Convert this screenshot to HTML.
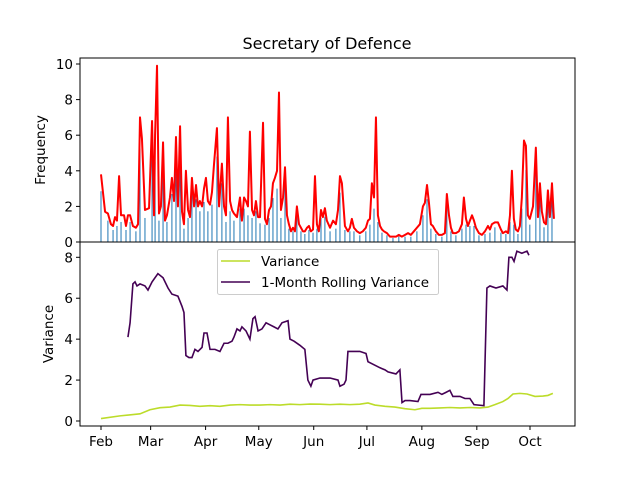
<!DOCTYPE html>
<html><head><meta charset="utf-8"><style>
body{margin:0;background:#fff;}
svg{display:block;font-family:"DejaVu Sans","Liberation Sans",sans-serif;}
</style></head><body>
<svg id="chart" width="640" height="480">
<text x="327" y="49" font-size="16" text-anchor="middle">Secretary of Defence</text>
<g id="topPanel"></g>
<g id="botPanel"></g>
<text transform="translate(45,150) rotate(-90)" font-size="13.5" text-anchor="middle">Frequency</text>
<text transform="translate(53,334) rotate(-90)" font-size="13.5" text-anchor="middle">Variance</text>
</svg>
<script>
const freqDays=[0,2.3,3.9,5.6,6.8,7.9,9,10.2,11.3,13,14.1,15.2,16.4,18,19.7,20.9,22,23.1,24.8,27.1,28.8,29.9,30.5,31.6,32.7,33.8,35,36.1,37.2,38.9,40,41.2,42.3,43.4,44.6,45.7,46.8,47.9,49.1,50.2,51.3,52.5,53.6,54.7,55.8,57,58.1,59.2,60.3,61.5,62.6,63.7,65.4,66.6,68.2,69.4,70.5,71.6,72.8,73.9,75,76.7,78.4,79.5,80.7,81.8,82.9,84,85.2,86.3,87.4,88.6,89.7,91.4,92.5,93.6,94.8,95.9,97,98.1,99.3,100.4,101.5,102.7,103.8,104.9,106,107.2,108.3,109.4,110.5,111.7,112.8,113.9,115,116.2,117.3,118.4,119.6,120.7,121.8,122.9,124.1,125.2,126.3,127.4,129.2,130.9,132.5,133.7,134.8,135.9,137.6,139.3,140.4,141.5,142.7,144.4,146,147.7,149.4,150.6,151.7,152.8,154,155.1,156.2,157.4,158.5,159.6,161.3,163,164.7,166.4,168,169.7,171.5,173.2,174.8,176.5,178.2,179.9,181.6,182.7,183.9,185,186.1,187.2,188.9,190.6,192.3,194,195.1,196.3,197.4,198.5,200.2,201.9,203.6,204.7,205.9,207,208.1,209.3,210.4,211.5,213.2,214.9,216.6,218.3,219.4,220.5,222.2,223.9,225.6,226.7,228.4,229.6,230.7,231.8,232.9,234,235.2,236.3,237.4,238.6,239.7,240.8,241.9,243.7,245.3,246.5,247.6,248.7,249.9,251,252.1,253.2,254.4,255.5];
const freqVals=[3.8,1.7,1.6,1.0,0.9,1.4,1.2,3.7,1.5,1.5,0.9,1.5,1.5,0.9,0.8,1.0,7.0,5.8,1.8,1.9,6.8,1.5,6.0,9.9,1.6,2.0,5.6,1.2,1.5,2.5,3.6,2.3,5.9,2.0,6.5,1.7,1.0,4.0,1.8,1.4,3.6,2.0,3.2,2.0,2.3,2.0,3.0,3.6,2.3,2.1,2.8,4.3,6.4,2.0,4.4,2.0,1.5,7.0,2.3,1.8,1.6,1.4,2.5,1.2,2.5,2.3,2.0,6.2,1.8,1.5,2.3,1.4,1.4,6.7,1.3,1.0,1.8,2.0,3.3,3.6,4.0,8.4,1.8,2.5,4.2,1.5,1.0,0.6,0.8,0.6,2.0,1.0,0.8,0.6,0.6,0.8,0.9,0.6,0.7,3.7,1.0,0.6,1.8,1.4,1.9,1.2,0.8,1.2,1.0,1.8,3.7,3.3,0.9,0.6,0.8,1.3,0.8,0.6,0.5,0.6,0.8,1.2,1.3,3.3,2.5,7.0,1.5,0.9,0.7,0.6,0.5,0.3,0.3,0.3,0.4,0.3,0.4,0.5,0.4,0.6,0.8,1.0,2.0,2.2,3.2,2.2,1.0,0.9,0.6,0.4,0.4,0.5,2.7,1.5,0.8,0.5,0.5,0.6,1.0,2.5,1.3,0.9,1.2,1.5,1.2,0.8,0.5,0.4,0.6,0.9,0.7,1.0,1.1,1.1,0.7,0.5,0.6,0.5,1.5,4.0,1.3,0.7,0.6,0.9,2.5,5.7,5.4,1.5,1.3,2.0,5.3,1.4,3.3,1.7,1.1,1.0,2.9,1.4,3.3,1.3];
const varDays=[0,10.7,22,27.6,33.3,38.9,44.6,50.2,55.8,61.5,67.1,72.8,78.4,84,89.7,95.3,101,106.6,112.2,117.9,123.5,129.2,134.8,140.4,146,150.6,154.5,160.2,165.8,171.5,177.1,181,185.6,191.2,196.8,202.5,208.1,213.8,218.3,222.2,226.7,229.6,232.4,236.3,240.3,244.8,249.3,252.1,254.9];
const varVals=[0.12,0.25,0.35,0.55,0.65,0.68,0.78,0.76,0.72,0.75,0.72,0.78,0.80,0.78,0.78,0.80,0.78,0.82,0.80,0.83,0.82,0.80,0.82,0.80,0.82,0.88,0.78,0.72,0.68,0.60,0.55,0.62,0.62,0.64,0.66,0.64,0.66,0.64,0.68,0.80,0.95,1.1,1.32,1.35,1.32,1.2,1.22,1.25,1.35];
const rollDays=[15.2,16.4,18,19.2,20.3,22,24.8,26.5,28.8,32.1,35,37.8,40,43.4,45.7,46.8,47.9,49.6,51.3,53,54.7,57,58.1,59.8,61.5,64.3,67.1,69.4,71.6,73.9,75,76.7,78.4,79.5,81.8,84,85.7,86.9,88.6,90.8,93.1,95.3,97.6,99.8,102.1,105.5,106.6,108.9,112.2,115,116.7,118.4,119.6,123.5,129.2,133.7,134.8,137.1,138.2,139.3,146,149.5,150.6,152.8,157.4,160.2,161.9,166.4,168.6,169.8,171.5,174.3,178.8,180.5,185.6,190.1,192.3,194.6,196.8,198.5,202.5,205.3,208.1,210.4,216,217.7,219.4,222.8,226.7,229,230.1,231.8,233,234.6,237.4,240.3,241.4];
const rollVals=[4.1,4.8,6.7,6.8,6.6,6.7,6.6,6.4,6.8,7.2,7.0,6.5,6.2,6.1,5.6,5.3,3.2,3.1,3.1,3.5,3.4,3.6,4.3,4.3,3.5,3.5,3.4,3.8,3.8,3.9,4.1,4.5,4.4,4.6,4.4,4.0,5.0,5.1,4.4,4.5,4.8,4.7,4.6,4.5,4.8,4.9,4.0,3.9,3.7,3.5,2.0,1.7,2.0,2.1,2.1,2.0,1.7,1.8,2.0,3.4,3.4,3.3,2.9,2.8,2.6,2.5,2.4,2.3,2.5,0.9,1.0,1.0,0.95,1.3,1.3,1.4,1.3,1.4,1.5,1.2,1.2,1.1,1.1,0.8,0.75,6.5,6.6,6.5,6.6,6.4,8.0,8.0,7.8,8.3,8.2,8.3,8.1];
const monthLabels=["Feb","Mar","Apr","May","Jun","Jul","Aug","Sep","Oct"];
const monthDays=[0,28,59,89,120,150,181,212,242];
const topTicks=[0,2,4,6,8,10];
const botTicks=[0,2,4,6,8];

const NS="http://www.w3.org/2000/svg";
const L=80,R=575;
const xs=d=>101+d*(530-101)/242;
const yTop=v=>242-v*17.8;
const yBot=v=>421-v*(421-257.3)/8;
function mk(p,t,a){const e=document.createElementNS(NS,t);for(const k in a)e.setAttribute(k,a[k]);p.appendChild(e);return e;}
const topG=document.getElementById('topPanel'),botG=document.getElementById('botPanel');
freqDays.forEach((d,i)=>{
  if(i%2===1)return;
  const h=freqVals[i]*0.75;
  const b=mk(topG,'rect',{x:xs(d)-0.5,y:yTop(h),width:1,height:h*17.8,fill:'#1f77b4'});
  
  
});
const pl=mk(topG,'polyline',{points:freqDays.map((d,i)=>xs(d)+','+yTop(freqVals[i])).join(' '),fill:'none',stroke:'#ff0000','stroke-width':2,'stroke-linejoin':'round'});


const g1=mk(botG,'polyline',{points:varDays.map((d,i)=>xs(d)+','+yBot(varVals[i])).join(' '),fill:'none',stroke:'#bcdc2a','stroke-width':1.6});


const g2=mk(botG,'polyline',{points:rollDays.map((d,i)=>xs(d)+','+yBot(rollVals[i])).join(' '),fill:'none',stroke:'#440154','stroke-width':1.6});


const f1=mk(topG,'rect',{x:L,y:58,width:R-L,height:184,fill:'none',stroke:'#000','stroke-width':1});


const f2=mk(botG,'rect',{x:L,y:242,width:R-L,height:184,fill:'none',stroke:'#000','stroke-width':1});


topTicks.forEach(v=>{
  mk(topG,'line',{x1:L-4,x2:L,y1:yTop(v),y2:yTop(v),stroke:'#000'});
  const t=mk(topG,'text',{x:L-7,y:yTop(v)+5,'font-size':13.5,'text-anchor':'end'});t.textContent=v;
  
  
});
botTicks.forEach(v=>{
  mk(botG,'line',{x1:L-4,x2:L,y1:yBot(v),y2:yBot(v),stroke:'#000'});
  const t=mk(botG,'text',{x:L-7,y:yBot(v)+5,'font-size':13.5,'text-anchor':'end'});t.textContent=v;
  
  
});
monthDays.forEach((d,i)=>{
  mk(botG,'line',{x1:xs(d),x2:xs(d),y1:426,y2:430,stroke:'#000'});
  const t=mk(botG,'text',{x:xs(d),y:446,'font-size':13.5,'text-anchor':'middle'});t.textContent=monthLabels[i];
  
  
});
const lg=mk(botG,'g',{});


mk(lg,'rect',{x:217.5,y:249.5,width:221,height:45,rx:2,fill:'#fff','fill-opacity':0.8,stroke:'#ccc'});
mk(lg,'line',{x1:221,x2:250,y1:261,y2:261,stroke:'#bcdc2a','stroke-width':1.6});
const t1=mk(lg,'text',{x:261,y:266,'font-size':13.5});t1.textContent='Variance';


mk(lg,'line',{x1:221,x2:250,y1:282,y2:282,stroke:'#440154','stroke-width':1.6});
const t2=mk(lg,'text',{x:261,y:287,'font-size':13.5});t2.textContent='1-Month Rolling Variance';


</script>
</body></html>
